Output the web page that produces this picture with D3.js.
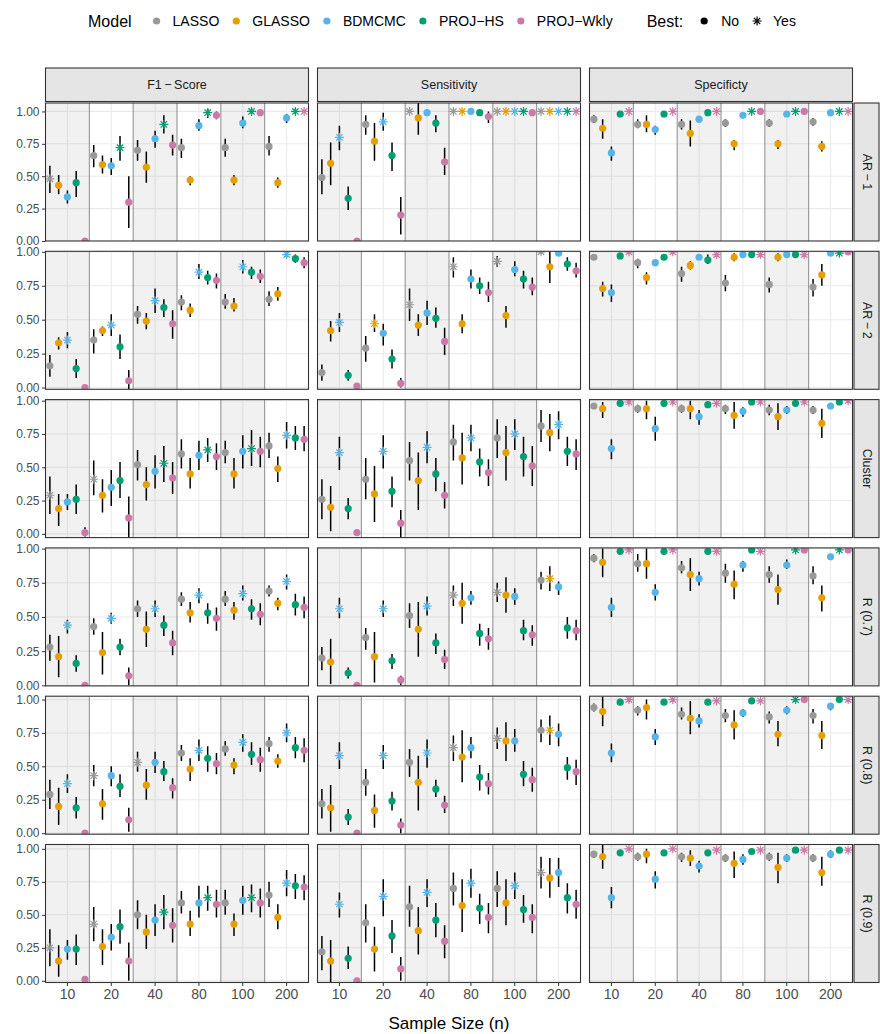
<!DOCTYPE html>
<html>
<head>
<meta charset="utf-8">
<script src="https://cdn.jsdelivr.net/npm/d3@7"></script>
<style>
  body { margin: 0; background: #fff; }
  text { font-family: "Liberation Sans", Arial, Helvetica, sans-serif; }
</style>
</head>
<body>
<svg id="chart" width="880" height="1034"></svg>
<script>
// Categories and labels
const models = ['LASSO', 'GLASSO', 'BDMCMC', 'PROJ\u2212HS', 'PROJ\u2212Wkly'];
const modelColors = ['#999999', '#E69F00', '#56B4E9', '#009E73', '#CC79A7'];
const sampleSizes = ['10', '20', '40', '80', '100', '200'];
const metrics = ['F1\u2009\u2212\u2009Score', 'Sensitivity', 'Specificty'];
const designs = ['AR\u2009\u2212\u20091', 'AR\u2009\u2212\u20092', 'Cluster', 'R (0.7)', 'R (0.8)', 'R (0.9)'];
const yTicks = [0, 0.25, 0.5, 0.75, 1];

// One array per panel: 6 sample sizes x 5 models, each [mean, lower, upper, best]
const f1AR1 = [
  [[.48,.37,.58,1],[.43,.36,.51,0],[.34,.29,.39,0],[.45,.34,.54,0],[0,0,.01,0]],
  [[.66,.57,.74,0],[.59,.52,.66,0],[.58,.51,.64,0],[.72,.62,.81,1],[.30,.10,.50,0]],
  [[.70,.62,.78,0],[.57,.45,.69,0],[.79,.72,.85,0],[.90,.83,.97,1],[.74,.66,.82,0]],
  [[.72,.64,.79,0],[.47,.43,.50,0],[.89,.85,.94,0],[.99,.95,1.02,1],[.97,.94,1.0,0]],
  [[.72,.65,.79,0],[.47,.43,.51,0],[.91,.87,.96,0],[1.0,.98,1.02,1],[.99,.97,1.0,0]],
  [[.73,.66,.81,0],[.45,.41,.49,0],[.95,.91,.98,0],[1.0,.98,1.02,1],[1.0,.99,1.01,1]]
];
const sensAR1 = [
  [[.49,.36,.63,0],[.60,.43,.76,0],[.80,.70,.89,1],[.33,.24,.42,0],[0,0,.01,0]],
  [[.90,.82,.97,0],[.77,.62,.91,0],[.92,.85,.99,1],[.66,.54,.76,0],[.20,.05,.34,0]],
  [[1.0,.99,1.0,1],[.95,.82,1.07,0],[.99,.98,1.0,0],[.91,.84,.97,0],[.61,.51,.72,0]],
  [[1,1,1,1],[1,1,1,1],[1,.99,1,0],[.99,.98,1,0],[.96,.91,1.0,0]],
  [[1,1,1,1],[1,1,1,1],[1,1,1,1],[1,1,1,1],[.99,.98,1,0]],
  [[1,1,1,1],[1,1,1,1],[1,1,1,1],[1,1,1,1],[1,1,1,1]]
];
const specAR1 = [
  [[.94,.91,.97,0],[.87,.79,.94,0],[.68,.62,.73,0],[.98,.97,.99,0],[1,1,1,1]],
  [[.90,.87,.94,0],[.90,.84,.97,0],[.86,.82,.89,0],[.98,.97,.99,0],[1,1,1,1]],
  [[.90,.86,.94,0],[.83,.73,.93,0],[.94,.92,.96,0],[.99,.98,1,0],[1,1,1,1]],
  [[.91,.88,.94,0],[.75,.70,.78,0],[.97,.96,.98,0],[1,1,1,1],[1,1,1,0]],
  [[.91,.88,.94,0],[.75,.71,.78,0],[.98,.97,.99,0],[1,1,1,1],[1,1,1,0]],
  [[.92,.89,.95,0],[.73,.69,.77,0],[.99,.98,1,0],[1,1,1,1],[1,1,1,1]]
];
const f1AR2 = [
  [[.16,.08,.24,0],[.33,.28,.37,0],[.35,.29,.41,1],[.14,.07,.21,0],[0,0,.01,0]],
  [[.35,.25,.43,0],[.42,.38,.45,0],[.46,.38,.54,1],[.30,.21,.39,0],[.05,-.01,.13,0]],
  [[.54,.47,.60,0],[.49,.43,.55,0],[.64,.55,.73,1],[.59,.52,.65,0],[.47,.36,.57,0]],
  [[.63,.57,.68,0],[.57,.52,.62,0],[.85,.80,.91,1],[.81,.76,.86,0],[.79,.73,.84,0]],
  [[.63,.58,.69,0],[.60,.56,.66,0],[.89,.84,.94,1],[.85,.80,.89,0],[.82,.77,.87,0]],
  [[.65,.60,.71,0],[.69,.64,.74,0],[.98,.96,1.0,1],[.95,.92,.98,0],[.92,.88,.96,0]]
];
const sensAR2 = [
  [[.11,.05,.17,0],[.42,.34,.49,0],[.48,.41,.55,1],[.09,.05,.13,0],[.01,0,.02,0]],
  [[.29,.19,.38,0],[.47,.41,.54,1],[.40,.31,.47,0],[.21,.14,.28,0],[.03,0,.07,0]],
  [[.61,.49,.73,1],[.46,.38,.54,0],[.55,.46,.64,0],[.51,.44,.59,0],[.34,.24,.44,0]],
  [[.89,.81,.96,1],[.47,.40,.54,0],[.80,.73,.87,0],[.75,.69,.81,0],[.70,.63,.78,0]],
  [[.93,.89,.97,1],[.53,.44,.60,0],[.87,.82,.93,0],[.80,.73,.86,0],[.74,.68,.81,0]],
  [[1.0,.99,1.0,1],[.89,.77,1.0,0],[.99,.98,1.0,0],[.91,.86,.96,0],[.86,.81,.92,0]]
];
const specAR2 = [
  [[.96,.94,.98,0],[.73,.67,.78,0],[.70,.63,.76,0],[.97,.96,.98,0],[1,1,1,1]],
  [[.92,.88,.95,0],[.81,.76,.85,0],[.92,.90,.94,0],[.96,.95,.97,0],[1,1,1,1]],
  [[.84,.78,.89,0],[.90,.87,.93,0],[.96,.95,.97,0],[.94,.91,.98,0],[.98,.97,.99,1]],
  [[.77,.71,.83,0],[.96,.93,.99,0],[.98,.97,.99,0],[.98,.97,.99,0],[.98,.97,.99,1]],
  [[.76,.70,.81,0],[.96,.93,.99,0],[.98,.97,.99,0],[.98,.97,.99,0],[.98,.97,.99,1]],
  [[.74,.67,.80,0],[.83,.75,.91,0],[.99,.98,1,0],[.99,.98,1,1],[1,.99,1,0]]
];
const f1Cluster = [
  [[.29,.15,.43,1],[.19,.06,.30,0],[.24,.18,.30,0],[.26,.15,.37,0],[.01,-.02,.05,0]],
  [[.41,.29,.55,1],[.29,.16,.41,0],[.35,.21,.48,0],[.40,.27,.54,0],[.12,-.03,.28,0]],
  [[.52,.40,.63,0],[.37,.25,.50,0],[.47,.34,.59,0],[.53,.39,.66,1],[.42,.30,.54,0]],
  [[.60,.49,.71,0],[.45,.34,.57,0],[.59,.48,.70,0],[.63,.54,.72,1],[.58,.48,.68,0]],
  [[.61,.53,.70,0],[.45,.34,.57,0],[.62,.49,.74,0],[.64,.51,.78,1],[.62,.50,.73,0]],
  [[.66,.57,.76,0],[.49,.39,.58,0],[.74,.64,.84,1],[.72,.63,.81,0],[.71,.62,.81,0]]
];
const sensCluster = [
  [[.26,.11,.41,0],[.20,.02,.36,0],[.61,.48,.73,1],[.19,.11,.27,0],[.01,0,.02,0]],
  [[.41,.26,.57,0],[.30,.09,.51,0],[.62,.49,.74,1],[.32,.20,.43,0],[.08,-.03,.18,0]],
  [[.55,.40,.69,0],[.40,.18,.61,0],[.65,.53,.77,1],[.45,.32,.57,0],[.29,.19,.39,0]],
  [[.69,.55,.82,0],[.57,.37,.76,0],[.72,.62,.82,1],[.54,.43,.64,0],[.46,.36,.56,0]],
  [[.72,.57,.86,0],[.61,.40,.81,0],[.75,.63,.86,1],[.58,.43,.73,0],[.51,.36,.66,0]],
  [[.81,.69,.93,0],[.76,.62,.90,0],[.82,.71,.92,1],[.62,.51,.73,0],[.60,.48,.71,0]]
];
const specCluster = [
  [[.96,.94,.98,0],[.94,.87,.99,0],[.64,.56,.71,0],[.98,.97,.99,0],[.99,.98,1,1]],
  [[.94,.91,.97,0],[.94,.86,1.0,0],[.79,.70,.88,0],[.98,.97,.99,0],[.99,.98,1,1]],
  [[.94,.91,.97,0],[.94,.86,1.0,0],[.88,.82,.93,0],[.97,.96,.98,0],[.98,.97,.99,1]],
  [[.94,.90,.97,0],[.89,.79,.99,0],[.92,.88,.95,0],[.99,.98,1,0],[.99,.98,1,1]],
  [[.93,.89,.97,0],[.88,.78,.98,0],[.93,.90,.96,0],[.98,.97,.99,0],[.99,.98,1,1]],
  [[.93,.90,.96,0],[.83,.72,.94,0],[.96,.95,.97,0],[.99,.98,1,0],[1,.99,1,1]]
];
const f1R07 = [
  [[.28,.18,.37,0],[.21,.06,.36,0],[.44,.38,.48,1],[.16,.10,.22,0],[0,0,.01,0]],
  [[.43,.37,.49,0],[.24,.08,.39,0],[.49,.45,.53,1],[.28,.22,.34,0],[.07,0,.13,0]],
  [[.56,.50,.62,0],[.41,.28,.54,0],[.56,.50,.62,1],[.44,.36,.51,0],[.31,.22,.40,0]],
  [[.63,.58,.68,0],[.53,.46,.61,0],[.66,.60,.71,1],[.53,.45,.60,0],[.49,.40,.57,0]],
  [[.63,.58,.69,0],[.55,.48,.61,0],[.67,.62,.73,1],[.56,.48,.63,0],[.52,.44,.60,0]],
  [[.69,.65,.73,0],[.60,.55,.64,0],[.76,.70,.81,1],[.59,.51,.67,0],[.57,.49,.65,0]]
];
const sensR07 = [
  [[.20,.11,.28,0],[.17,.01,.34,0],[.56,.49,.64,1],[.09,.05,.13,0],[0,0,.01,0]],
  [[.35,.26,.42,0],[.21,.02,.39,0],[.56,.50,.62,1],[.18,.12,.23,0],[.04,0,.07,0]],
  [[.51,.42,.60,0],[.41,.21,.61,0],[.58,.51,.65,1],[.31,.23,.38,0],[.19,.12,.26,0]],
  [[.66,.58,.73,1],[.60,.45,.75,0],[.64,.59,.69,0],[.38,.29,.45,0],[.34,.26,.42,0]],
  [[.68,.61,.75,1],[.66,.53,.79,0],[.65,.59,.71,0],[.40,.33,.48,0],[.37,.29,.44,0]],
  [[.77,.70,.83,0],[.78,.69,.87,1],[.72,.66,.76,0],[.42,.34,.50,0],[.40,.33,.48,0]]
];
const specR07 = [
  [[.93,.90,.96,0],[.90,.79,1.0,0],[.57,.50,.64,0],[.98,.97,.99,0],[.99,.98,1,1]],
  [[.89,.83,.96,0],[.89,.78,1.0,0],[.68,.62,.74,0],[.98,.97,.99,0],[.99,.98,1,1]],
  [[.86,.82,.91,0],[.81,.69,.93,0],[.78,.73,.83,0],[.98,.97,.99,0],[.98,.97,.99,1]],
  [[.82,.75,.89,0],[.74,.63,.84,0],[.88,.83,.91,0],[.99,.98,1,0],[.98,.97,.99,1]],
  [[.81,.75,.87,0],[.70,.59,.81,0],[.88,.85,.92,0],[.99,.98,1,1],[.99,.98,1,0]],
  [[.80,.74,.87,0],[.64,.54,.73,0],[.94,.92,.96,0],[.99,.98,1,1],[.99,.98,1,0]]
];
const f1R08 = [
  [[.29,.18,.40,0],[.20,.06,.34,0],[.37,.30,.44,1],[.19,.11,.27,0],[0,0,.01,0]],
  [[.43,.35,.51,1],[.22,.10,.33,0],[.43,.35,.50,0],[.35,.27,.44,0],[.10,.01,.19,0]],
  [[.53,.46,.61,1],[.36,.25,.48,0],[.53,.45,.61,0],[.46,.39,.54,0],[.34,.26,.41,0]],
  [[.60,.54,.66,0],[.48,.39,.56,0],[.62,.54,.70,1],[.56,.46,.65,0],[.52,.44,.60,0]],
  [[.63,.58,.69,0],[.51,.44,.56,0],[.68,.61,.74,1],[.59,.51,.68,0],[.55,.46,.64,0]],
  [[.67,.61,.72,0],[.54,.49,.59,0],[.75,.68,.82,1],[.64,.56,.72,0],[.62,.53,.71,0]]
];
const sensR08 = [
  [[.22,.11,.33,0],[.19,.01,.36,0],[.58,.48,.68,1],[.12,.06,.18,0],[0,0,.01,0]],
  [[.38,.28,.48,0],[.17,.04,.29,0],[.58,.48,.66,1],[.24,.17,.31,0],[.06,0,.11,0]],
  [[.53,.42,.63,0],[.38,.17,.58,0],[.60,.49,.70,1],[.33,.27,.40,0],[.21,.15,.28,0]],
  [[.64,.54,.73,1],[.57,.38,.77,0],[.64,.56,.72,0],[.42,.32,.51,0],[.37,.29,.45,0]],
  [[.71,.63,.79,1],[.69,.54,.83,0],[.69,.61,.78,0],[.44,.35,.54,0],[.40,.31,.49,0]],
  [[.77,.68,.85,0],[.77,.66,.88,1],[.74,.65,.82,0],[.49,.40,.57,0],[.46,.36,.55,0]]
];
const specR08 = [
  [[.94,.91,.97,0],[.91,.80,1.02,0],[.60,.53,.67,0],[.98,.97,.99,0],[1,1,1,1]],
  [[.92,.88,.95,0],[.94,.85,1.0,0],[.72,.66,.78,0],[.98,.97,.99,0],[1,1,1,1]],
  [[.89,.85,.94,0],[.86,.74,.99,0],[.84,.79,.89,0],[.98,.97,.99,0],[.99,.98,1,1]],
  [[.88,.83,.93,0],[.81,.70,.92,0],[.90,.87,.93,0],[.99,.98,1,0],[.99,.98,1,1]],
  [[.87,.82,.91,0],[.74,.65,.84,0],[.92,.89,.95,0],[1,.99,1.01,1],[1,.99,1.01,0]],
  [[.88,.82,.93,0],[.73,.63,.84,0],[.95,.92,.97,0],[1,.99,1.01,0],[1,.99,1.01,1]]
];
const f1R09 = [
  [[.25,.11,.39,1],[.15,.03,.27,0],[.24,.16,.31,0],[.24,.12,.35,0],[.01,0,.02,0]],
  [[.43,.30,.56,1],[.26,.12,.39,0],[.33,.23,.43,0],[.41,.28,.54,0],[.15,0,.29,0]],
  [[.50,.39,.61,0],[.37,.24,.50,0],[.46,.34,.58,0],[.52,.39,.65,1],[.42,.29,.55,0]],
  [[.59,.51,.68,0],[.43,.34,.53,0],[.59,.48,.72,0],[.63,.53,.72,1],[.58,.48,.69,0]],
  [[.59,.50,.69,0],[.43,.34,.51,0],[.61,.50,.72,0],[.63,.52,.73,1],[.59,.48,.70,0]],
  [[.65,.56,.75,0],[.48,.39,.58,0],[.74,.64,.84,1],[.72,.62,.81,0],[.71,.61,.80,0]]
];
const sensR09 = [
  [[.22,.08,.34,0],[.15,-.02,.31,0],[.58,.48,.67,1],[.17,.09,.26,0],[0,0,.01,0]],
  [[.44,.29,.58,0],[.24,.07,.41,0],[.64,.49,.77,1],[.34,.21,.46,0],[.09,0,.18,0]],
  [[.56,.41,.72,0],[.38,.20,.56,0],[.67,.56,.77,1],[.46,.33,.59,0],[.30,.17,.42,0]],
  [[.70,.57,.82,0],[.57,.37,.77,0],[.74,.63,.85,1],[.55,.43,.66,0],[.48,.36,.59,0]],
  [[.70,.56,.83,0],[.59,.42,.77,0],[.72,.62,.82,1],[.54,.44,.65,0],[.48,.36,.58,0]],
  [[.82,.70,.94,1],[.78,.63,.93,0],[.82,.71,.93,0],[.63,.51,.74,0],[.58,.47,.69,0]]
];
const specR09 = [
  [[.96,.93,.98,0],[.94,.85,1.03,0],[.63,.55,.71,0],[.97,.96,.98,0],[1,1,1,1]],
  [[.94,.91,.97,0],[.96,.89,1.0,0],[.77,.70,.83,0],[.97,.96,.98,0],[1,1,1,1]],
  [[.94,.90,.97,0],[.93,.87,.99,0],[.87,.82,.91,0],[.97,.96,.98,0],[.99,.98,1,1]],
  [[.93,.90,.96,0],[.89,.78,.98,0],[.92,.88,.96,0],[.98,.97,.99,0],[.99,.98,1,1]],
  [[.94,.91,.97,0],[.86,.74,.97,0],[.93,.90,.96,0],[.99,.98,1,0],[.99,.98,1,1]],
  [[.93,.90,.96,0],[.82,.72,.94,0],[.96,.93,.99,0],[.99,.98,1,0],[.99,.98,1,1]]
];

// Free y range of each row (facet_grid scales = "free_y", no expansion)
const rowDomains = [[0, 1.065], [-0.013, 1.004], [-0.028, 1.008], [-0.004, 1.005], [-0.008, 1.025], [-0.013, 1.033]];

const panels = [
  [f1AR1, sensAR1, specAR1],
  [f1AR2, sensAR2, specAR2],
  [f1Cluster, sensCluster, specCluster],
  [f1R07, sensR07, specR07],
  [f1R08, sensR08, specR08],
  [f1R09, sensR09, specR09]
];

// Layout
const left0 = 45.5, panelW = 263, colGap = 9;
const top0 = 103, panelH = 138, rowStep = 148.3;
const stripTopY = 68, stripTopH = 33.5;
const stripRightW = 25;
const pointR = 3.6, starR = 4.5;

const svg = d3.select('#chart');

let xBand = d3.scaleBand().domain(sampleSizes).range([0, panelW]).padding(0);
let xDodge = d3.scaleBand().domain(d3.range(models.length)).range([0, xBand.bandwidth()]).padding(0);

// asterisk = plus + cross (ggplot shape 8)
let starPath = function (s) {
  let d = s * Math.SQRT1_2;
  return `M${-s},0L${s},0M0,${-s}L0,${s}M${-d},${-d}L${d},${d}M${-d},${d}L${d},${-d}`;
};

// Draw every panel
panels.forEach((row, r) => {
  let y = d3.scaleLinear().domain(rowDomains[r]).range([panelH, 0]);
  row.forEach((data, c) => {
    let px = left0 + c * (panelW + colGap);
    let py = top0 + r * rowStep;
    let g = svg.append('g').attr('transform', `translate(${px},${py})`);
    let clipId = `clip-${r}-${c}`;
    g.append('clipPath').attr('id', clipId)
      .append('rect').attr('width', panelW).attr('height', panelH);

    let inner = g.append('g').attr('clip-path', `url(#${clipId})`);
    inner.append('rect').attr('width', panelW).attr('height', panelH).attr('fill', '#fff');

    // grid lines
    inner.selectAll('line.hgrid').data(yTicks).enter().append('line')
      .attr('x1', 0).attr('x2', panelW)
      .attr('y1', d => y(d)).attr('y2', d => y(d))
      .attr('stroke', '#ebebeb').attr('stroke-width', 1.1);
    inner.selectAll('line.vgrid').data(sampleSizes).enter().append('line')
      .attr('x1', d => xBand(d) + xBand.bandwidth() / 2).attr('x2', d => xBand(d) + xBand.bandwidth() / 2)
      .attr('y1', 0).attr('y2', panelH)
      .attr('stroke', '#ebebeb').attr('stroke-width', 1.1);

    // alternating shading
    inner.selectAll('rect.shade').data(sampleSizes.filter((d, i) => i % 2 === 0)).enter().append('rect')
      .attr('x', d => xBand(d)).attr('y', 0)
      .attr('width', xBand.bandwidth()).attr('height', panelH)
      .attr('fill', '#000').attr('fill-opacity', 0.055);

    // group separators
    inner.selectAll('line.sep').data(sampleSizes.slice(1)).enter().append('line')
      .attr('x1', d => xBand(d)).attr('x2', d => xBand(d))
      .attr('y1', 0).attr('y2', panelH)
      .attr('stroke', '#7f7f7f').attr('stroke-width', 0.9);

    // flatten points
    let pts = [];
    data.forEach((grp, gi) => {
      grp.forEach((v, mi) => {
        pts.push({
          x: xBand(sampleSizes[gi]) + xDodge(mi) + xDodge.bandwidth() / 2,
          mean: v[0], lo: v[1], hi: v[2], best: v[3], color: modelColors[mi]
        });
      });
    });

    inner.selectAll('line.err').data(pts).enter().append('line')
      .attr('x1', d => d.x).attr('x2', d => d.x)
      .attr('y1', d => y(d.lo)).attr('y2', d => y(d.hi))
      .attr('stroke', '#000').attr('stroke-width', 1.5);

    inner.selectAll('circle.pt').data(pts.filter(d => !d.best)).enter().append('circle')
      .attr('cx', d => d.x).attr('cy', d => y(d.mean)).attr('r', pointR)
      .attr('fill', d => d.color);

    inner.selectAll('path.pt').data(pts.filter(d => d.best)).enter().append('path')
      .attr('transform', d => `translate(${d.x},${y(d.mean)})`)
      .attr('d', starPath(starR))
      .attr('fill', 'none').attr('stroke', d => d.color).attr('stroke-width', 1.2);

    // panel border
    g.append('rect').attr('width', panelW).attr('height', panelH)
      .attr('fill', 'none').attr('stroke', '#333').attr('stroke-width', 1.1);

    // y axis on first column
    if (c === 0) {
      let ax = g.append('g').call(d3.axisLeft(y).tickValues(yTicks).tickFormat(d3.format('.2f')).tickSize(3.5).tickPadding(2.5));
      ax.select('.domain').remove();
      ax.selectAll('line').attr('stroke', '#333').attr('stroke-width', 1);
      ax.selectAll('text').attr('fill', '#4d4d4d').attr('font-size', 12).style('font-family', '"Liberation Sans", Arial, sans-serif');
    }
    // x axis on bottom row
    if (r === panels.length - 1) {
      let ax = g.append('g').attr('transform', `translate(0,${panelH})`)
        .call(d3.axisBottom(xBand).tickSize(3.5).tickPadding(3));
      ax.select('.domain').remove();
      ax.selectAll('line').attr('stroke', '#333').attr('stroke-width', 1);
      ax.selectAll('text').attr('fill', '#4d4d4d').attr('font-size', 14).style('font-family', '"Liberation Sans", Arial, sans-serif');
    }
  });

  // right strip
  let sx = left0 + 3 * panelW + 2 * colGap + 1.5;
  let sy = top0 + r * rowStep;
  svg.append('rect').attr('x', sx).attr('y', sy).attr('width', stripRightW).attr('height', panelH)
    .attr('fill', '#e5e5e5').attr('stroke', '#333').attr('stroke-width', 1.1);
  svg.append('text')
    .attr('transform', `translate(${sx + stripRightW / 2},${sy + panelH / 2}) rotate(90)`)
    .attr('text-anchor', 'middle').attr('dominant-baseline', 'central')
    .attr('font-size', 12.5).attr('fill', '#1a1a1a')
    .text(designs[r]);
});

// top strips
metrics.forEach((m, c) => {
  let px = left0 + c * (panelW + colGap);
  svg.append('rect').attr('x', px).attr('y', stripTopY).attr('width', panelW).attr('height', stripTopH)
    .attr('fill', '#e5e5e5').attr('stroke', '#333').attr('stroke-width', 1.1);
  svg.append('text').attr('x', px + panelW / 2).attr('y', stripTopY + stripTopH / 2)
    .attr('text-anchor', 'middle').attr('dominant-baseline', 'central')
    .attr('font-size', 12.5).attr('fill', '#1a1a1a').text(m);
});

// x axis title
svg.append('text')
  .attr('x', left0 + (3 * panelW + 2 * colGap) / 2).attr('y', 1023)
  .attr('text-anchor', 'middle').attr('dominant-baseline', 'central')
  .attr('font-size', 17).attr('fill', '#000').text('Sample Size (n)');

// legend, laid out left to right
let legend = svg.append('g').attr('transform', 'translate(88,21)');
let lx = 0;
let addText = function (txt, size, gapAfter) {
  let t = legend.append('text').attr('x', lx).attr('y', 0)
    .attr('dominant-baseline', 'central').attr('font-size', size).attr('fill', '#000').text(txt);
  lx += t.node().getComputedTextLength() + gapAfter;
};
addText('Model', 16, 25);
models.forEach((m, i) => {
  legend.append('circle').attr('cx', lx).attr('cy', 0).attr('r', pointR).attr('fill', modelColors[i]);
  lx += 16;
  addText(m, 14, i === models.length - 1 ? 34 : 17);
});
addText('Best:', 16, 21);
legend.append('circle').attr('cx', lx).attr('cy', 0).attr('r', pointR).attr('fill', '#000');
lx += 17;
addText('No', 14, 18);
legend.append('path').attr('transform', `translate(${lx},0)`).attr('d', starPath(starR))
  .attr('fill', 'none').attr('stroke', '#000').attr('stroke-width', 1.2);
lx += 16;
addText('Yes', 14, 0);
</script>
</body>
</html>
